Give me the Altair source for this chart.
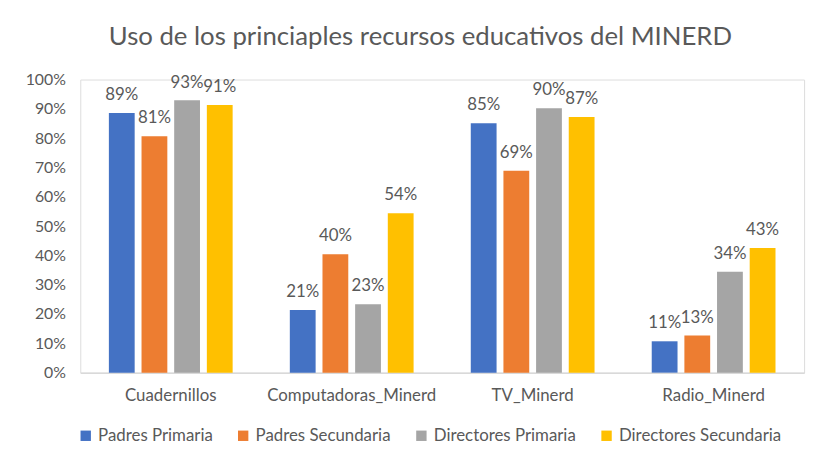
import altair as alt
import pandas as pd

categories = ["Cuadernillos", "Computadoras_Minerd", "TV_Minerd", "Radio_Minerd"]
series = ["Padres Primaria", "Padres Secundaria", "Directores Primaria", "Directores Secundaria"]
padres_primaria = [0.886, 0.214, 0.851, 0.107]
padres_secundaria = [0.807, 0.404, 0.689, 0.127]
directores_primaria = [0.929, 0.233, 0.902, 0.344]
directores_secundaria = [0.913, 0.544, 0.872, 0.425]
colors = ["#4472C4", "#ED7D31", "#A5A5A5", "#FFC000"]

rows = []
for s, vals in zip(series, [padres_primaria, padres_secundaria, directores_primaria, directores_secundaria]):
    for c, v in zip(categories, vals):
        rows.append({"cat": c, "series": s, "value": v})
df = pd.DataFrame(rows)

FONT = "Lato"
TXT = "#595959"

x = alt.X("cat:N", sort=categories, title=None,
          scale=alt.Scale(paddingInner=0.316, paddingOuter=0.158),
          axis=alt.Axis(labelAngle=0, ticks=False, domainColor="#D9D9D9", domainWidth=1.5,
                        labelFontSize=17, labelColor=TXT, labelFont=FONT, labelPadding=15))
xo = alt.XOffset("series:N", sort=series, scale=alt.Scale(paddingInner=0.21))
y = alt.Y("value:Q", title=None,
          scale=alt.Scale(domain=[0, 1]),
          axis=alt.Axis(values=[i / 10 for i in range(11)], format=".0%", grid=False, domain=False,
                        ticks=False, labelFontSize=16, labelColor=TXT, labelFont=FONT, labelPadding=15))

bars = alt.Chart(df).mark_bar().encode(
    x=x, xOffset=xo, y=y,
    color=alt.Color("series:N", sort=series, title=None,
                    scale=alt.Scale(domain=series, range=colors),
                    legend=alt.Legend(orient="none", legendX=-3, legendY=351, direction="horizontal",
                                      symbolType="square", symbolSize=110, symbolStrokeWidth=0,
                                      labelFontSize=17, labelColor=TXT, labelFont=FONT,
                                      labelLimit=400, labelOffset=4, columnPadding=22)),
)

labels = alt.Chart(df).mark_text(baseline="alphabetic", dy=-13, fontSize=17, color=TXT, font=FONT).encode(
    x=x, xOffset=xo, y=y,
    text=alt.Text("value:Q", format=".0%"),
)

chart = alt.layer(bars, labels).properties(
    width=731, height=296,
    autosize=alt.AutoSizeParams(type="none"),
    padding={"left": 73, "top": 70, "right": 9, "bottom": 92},
    title=alt.Title("Uso de los princiaples recursos educativos del MINERD",
                    font=FONT, fontSize=26, fontWeight="normal", color=TXT, offset=22, dx=-22),
).configure_view(stroke=None).configure(background="white")

chart.save("out.html", embed_options={"renderer": "svg", "actions": False})
